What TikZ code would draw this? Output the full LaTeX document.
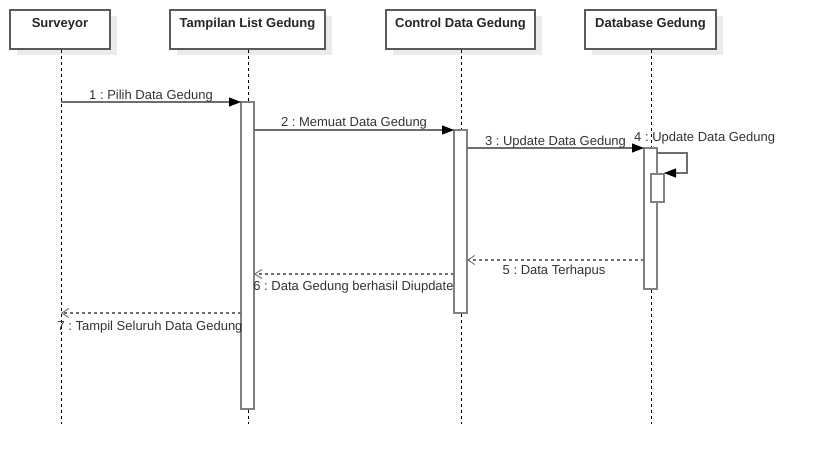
\documentclass[tikz,border=0pt]{standalone}
\usepackage{fontspec}
\setmainfont{Liberation Sans}
\usetikzlibrary{arrows.meta,shadows}
\definecolor{barc}{HTML}{808080}
\definecolor{msgc}{HTML}{6E6E6E}
\definecolor{shade}{HTML}{EBEBEB}
\definecolor{txt}{HTML}{333333}
\definecolor{hdrc}{HTML}{5A5A5A}
\frenchspacing
\begin{document}
\begin{tikzpicture}[x=1pt,y=-1pt,
  hdr/.style={draw=hdrc, line width=1.3pt, fill=white, minimum width=#1, minimum height=39pt, inner sep=0pt,
    drop shadow={shadow xshift=7pt, shadow yshift=-6pt, fill=shade, opacity=1}},
  hdrtext/.style={font=\fontsize{13}{15}\selectfont\bfseries, text=black!85, anchor=base, inner sep=0pt},
  life/.style={draw=black, line width=0.8pt, dash pattern=on 3pt off 3pt},
  actbar/.style={draw=barc, line width=1.4pt, fill=white, minimum width=13pt, minimum height=#1, inner sep=0pt, outer sep=0pt},
  msg/.style={draw=msgc, line width=1.2pt, -{Triangle[length=12pt,width=9pt,color=black]}},
  ret/.style={draw=msgc, line width=1.1pt, dash pattern=on 3pt off 3pt, -{Straight Barb[length=7pt,width=9pt,line width=0.9pt]}},
  lbl/.style={font=\fontsize{13}{15}\selectfont, text=txt, anchor=base, inner sep=0pt}]
\useasboundingbox (0,0) rectangle (813,466);
% headers
\node[hdr=100pt] (s) at (60,29.5) {};
\node[hdr=155pt] (t) at (247.5,29.5) {};
\node[hdr=149pt] (c) at (460.5,29.5) {};
\node[hdr=131pt] (d) at (650.5,29.5) {};
\node[hdrtext] (st) at (60,27) {Surveyor};
\node[hdrtext] (tt) at (247.5,27) {Tampilan List Gedung};
\node[hdrtext] (ct) at (460.5,27) {Control Data Gedung};
\node[hdrtext] (dt) at (650.5,27) {Database Gedung};
% lifelines
\coordinate (se) at (61,424);
\coordinate (te) at (248,424);
\coordinate (ce) at (461,424);
\coordinate (de) at (651,424);
\draw[life] (s.south -| se) -- (se);
\draw[life] (t.south -| te) -- (te);
\draw[life] (c.south -| ce) -- (ce);
\draw[life] (d.south -| de) -- (de);
% activation bars
\node[actbar=307pt] (a1) at (247.5,255.5) {};
\node[actbar=183pt] (a2) at (460.5,221.5) {};
\node[actbar=141pt] (a3) at (650.5,218.5) {};
\node[actbar=28pt] (a4) at (657.5,188) {};
% messages
\draw[msg] (se |- 0,102) -- (a1.north west);
\draw[msg] (a1.east |- 0,130) -- (a2.north west);
\draw[msg] (a2.east |- 0,148) -- (a3.north west);
\coordinate (loop) at (687,173);
\draw[msg] (a3.east |- 0,153) -| (loop) -- (a4.east |- loop);
\draw[ret] (a3.west |- 0,260) -- (a2.east |- 0,260);
\draw[ret] (a2.west |- 0,274) -- (a1.east |- 0,274);
\draw[ret] (a1.west |- 0,313) -- (se |- 0,313);
% labels
\node[lbl] (l1) at (151,99.5) {1 : Pilih Data Gedung};
\node[lbl] (l2) at (354,126.5) {2 : Memuat Data Gedung};
\node[lbl] (l3) at (555.5,145) {3 : Update Data Gedung};
\node[lbl, anchor=base west] (l4) at (634,141.5) {4 : Update Data Gedung};
\node[lbl] (l5) at (554,274.5) {5 : Data Terhapus};
\node[lbl] (l6) at (353.5,290.5) {6 : Data Gedung berhasil Diupdate};
\node[lbl] (l7) at (150,330.5) {7 : Tampil Seluruh Data Gedung};
\end{tikzpicture}
\end{document}
